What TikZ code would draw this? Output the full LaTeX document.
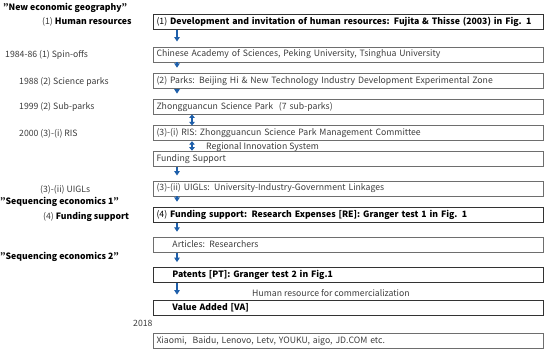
\documentclass[tikz,border=0pt]{standalone}
\usepackage{fontspec}
\setmainfont{Noto Sans CJK JP}
\usepackage{tikz}
\usetikzlibrary{arrows.meta,positioning,calc}
\definecolor{framegray}{RGB}{110,110,110}
\definecolor{textgray}{RGB}{60,60,60}
\definecolor{arrowblue}{RGB}{30,95,170}

\begin{document}
\begin{tikzpicture}[
  x=1pt, y=-1pt,
  font=\fontsize{8.7}{10}\selectfont,
  box/.style={draw=framegray, line width=0.8pt, text=textgray, align=left, inner xsep=3pt,
    inner ysep=0pt, text height=10pt, text depth=5pt, text width=384pt, anchor=north west},
  mainbox/.style={box, draw=black!80, line width=1pt, text=black},
  lbl/.style={anchor=west, inner sep=0pt, text=textgray},
  head/.style={anchor=west, inner sep=0pt, font=\fontsize{8.7}{10}\selectfont\bfseries},
  arr/.style={-{Triangle[width=5.5pt,length=4.5pt]}, line width=1.7pt, arrowblue, shorten >=5pt},
  dbl/.style={{Triangle[width=5.5pt,length=3.5pt]}-{Triangle[width=5.5pt,length=3.5pt]}, line width=1.7pt, arrowblue}
]
\useasboundingbox (0,0) rectangle (550,351);
\coordinate (ax) at (177,0);
\coordinate (dx) at (192,0);
\node[mainbox] (b1) at (153,14) {(1) \textbf{Development and invitation of human resources: Fujita \& Thisse (2003) in Fig. 1}};
\node[box, below=16.5pt of b1] (b2) {Chinese Academy of Sciences, Peking University, Tsinghua University};
\node[box, below=10.5pt of b2] (b3) {(2) Parks: Beijing Hi \& New Technology Industry Development Experimental Zone};
\node[box, below=10pt of b3] (b4) {Zhongguancun Science Park~ (7 sub-parks)};
\node[box, below=11pt of b4] (b5) {(3)-(i) RIS: Zhongguancun Science Park Management Committee};
\node[box, below=9.5pt of b5] (b6) {Funding Support};
\node[box, below=14pt of b6] (b7) {(3)-(ii) UIGLs: University-Industry-Government Linkages};
\node[mainbox, below=10.5pt of b7, anchor=north] (b8) {(4) \textbf{Funding support: Research Expenses [RE]: Granger test 1 in Fig. 1}};
\node[box, below=14pt of b8, anchor=north] (b9) {\hspace*{16pt}Articles: Researchers};
\node[mainbox, below=14.5pt of b9, anchor=north] (b10) {\hspace*{16pt}\textbf{Patents [PT]: Granger test 2 in Fig.1}};
\node[mainbox, below=16.5pt of b10, anchor=north] (b11) {\hspace*{16pt}\textbf{Value Added [VA]}};
\node[box, below=17pt of b11, anchor=north] (b12) {Xiaomi,~ Baidu, Lenovo, Letv, YOUKU, aigo, JD.COM etc.};
% left column
\node[head] (neg) at (3,8) {"New economic geography"};
\node[lbl] (hr) at (42,22) {(1) \textcolor{black}{\textbf{Human resources}}};
\node[lbl] (y84) at (5,55) {1984-86 (1) Spin-offs};
\node[lbl] (y88) at (19,82) {1988 (2) Science parks};
\node[lbl] (y99) at (19,107) {1999 (2) Sub-parks};
\node[lbl] (y00) at (19,134) {2000 (3)-(i) RIS};
\node[lbl] (uigl) at (40,190) {(3)-(ii) UIGLs};
\node[head] (seq1) at (0,202) {"Sequencing economics 1"};
\node[lbl] (fund) at (43,217) {(4) \textcolor{black}{\textbf{Funding support}}};
\node[head] (seq2) at (0,257) {"Sequencing economics 2"};
\node[lbl] (y18) at (133,323) {2018};
% notes beside arrows
\node[lbl] (rinn) at (206,147) {Regional Innovation System};
\node[lbl] (hrc) at (252,293) {Human resource for commercialization};
% arrows
\draw[arr] (b1.south -| ax) -- (b2.north -| ax);
\draw[arr] (b2.south -| ax) -- (b3.north -| ax);
\draw[arr] (b3.south -| ax) -- (b4.north -| ax);
\draw[dbl] (b4.south -| dx) -- (b5.north -| dx);
\draw[dbl] (b5.south -| dx) -- (b6.north -| dx);
\draw[arr] (b6.south -| ax) -- (b7.north -| ax);
\draw[arr] (b7.south -| ax) -- (b8.north -| ax);
\draw[arr] (b8.south -| ax) -- (b9.north -| ax);
\draw[arr] (b9.south -| ax) -- (b10.north -| ax);
\draw[arr] (b10.south -| ax) -- (b11.north -| ax);
\end{tikzpicture}
\end{document}
